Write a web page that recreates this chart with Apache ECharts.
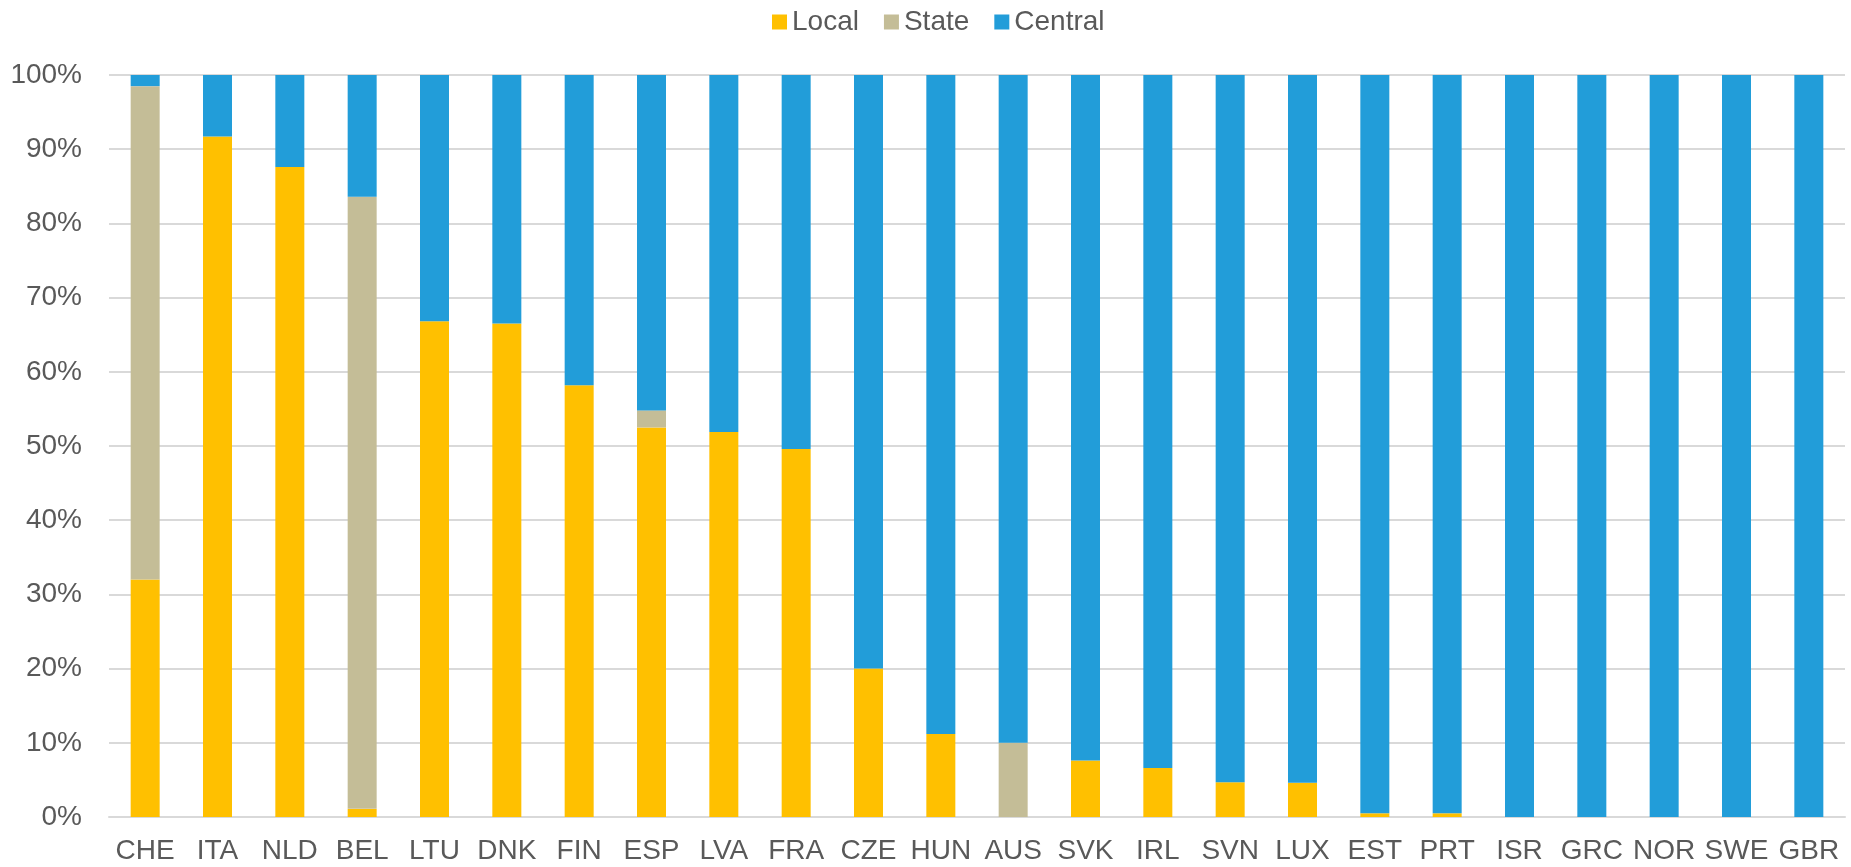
<!DOCTYPE html>
<html>
<head>
<meta charset="utf-8">
<script src="https://cdn.jsdelivr.net/npm/echarts@6/dist/echarts.min.js"></script>
<style>
html,body{margin:0;padding:0;background:#fff;}
#chart{width:1851px;height:867px;}
</style>
</head>
<body>
<div id="chart"></div>
<script>
const categories = ['CHE','ITA','NLD','BEL','LTU','DNK','FIN','ESP','LVA','FRA','CZE','HUN','AUS','SVK','IRL','SVN','LUX','EST','PRT','ISR','GRC','NOR','SWE','GBR'];
const localValues   = [32.0, 91.7, 87.6, 1.1, 66.8, 66.5, 58.2, 52.5, 51.9, 49.6, 20.0, 11.2, 0, 7.6, 6.6, 4.7, 4.6, 0.5, 0.5, 0, 0, 0, 0, 0];
const stateValues   = [66.5, 0, 0, 82.5, 0, 0, 0, 2.3, 0, 0, 0, 0, 10.0, 0, 0, 0, 0, 0, 0, 0, 0, 0, 0, 0];
const centralValues = [1.5, 8.3, 12.4, 16.4, 33.2, 33.5, 41.8, 45.2, 48.1, 50.4, 80.0, 88.8, 90.0, 92.4, 93.4, 95.3, 95.4, 99.5, 99.5, 100, 100, 100, 100, 100];
const seriesNames = ['Local','State','Central'];
const colors = ['#FFC000','#C4BD97','#229DD9'];

const chart = echarts.init(document.getElementById('chart'), null, {renderer:'canvas'});
const font = 'Liberation Sans, Arial, sans-serif';
const textColor = '#595959';
const dataSets = [localValues, stateValues, centralValues];
chart.setOption({
  animation:false,
  color: colors,
  legend:{
    data: seriesNames,
    left: 767, top: 3,
    itemWidth:15, itemHeight:15, itemGap:25,
    icon:'rect',
    textStyle:{fontFamily:font, fontSize:28, color:textColor}
  },
  grid:{left:109, right:6, top:75, bottom:50, containLabel:false},
  xAxis:{
    type:'category',
    data: categories,
    axisLine:{show:true, lineStyle:{color:'#D9D9D9', width:2}},
    axisTick:{show:false},
    axisLabel:{fontFamily:font, fontSize:28, color:textColor, margin:20, interval:0}
  },
  yAxis:{
    type:'value', min:0, max:100, interval:10,
    axisLine:{show:false}, axisTick:{show:false},
    splitLine:{lineStyle:{color:'#D9D9D9', width:2}},
    axisLabel:{fontFamily:font, fontSize:28, color:textColor, margin:27, formatter:'{value}%'}
  },
  series: seriesNames.map((n,i)=>({
    name:n, type:'bar', stack:'total', barWidth:29,
    data: dataSets[i],
    itemStyle:{color:colors[i]}
  }))
});
</script>
</body>
</html>
